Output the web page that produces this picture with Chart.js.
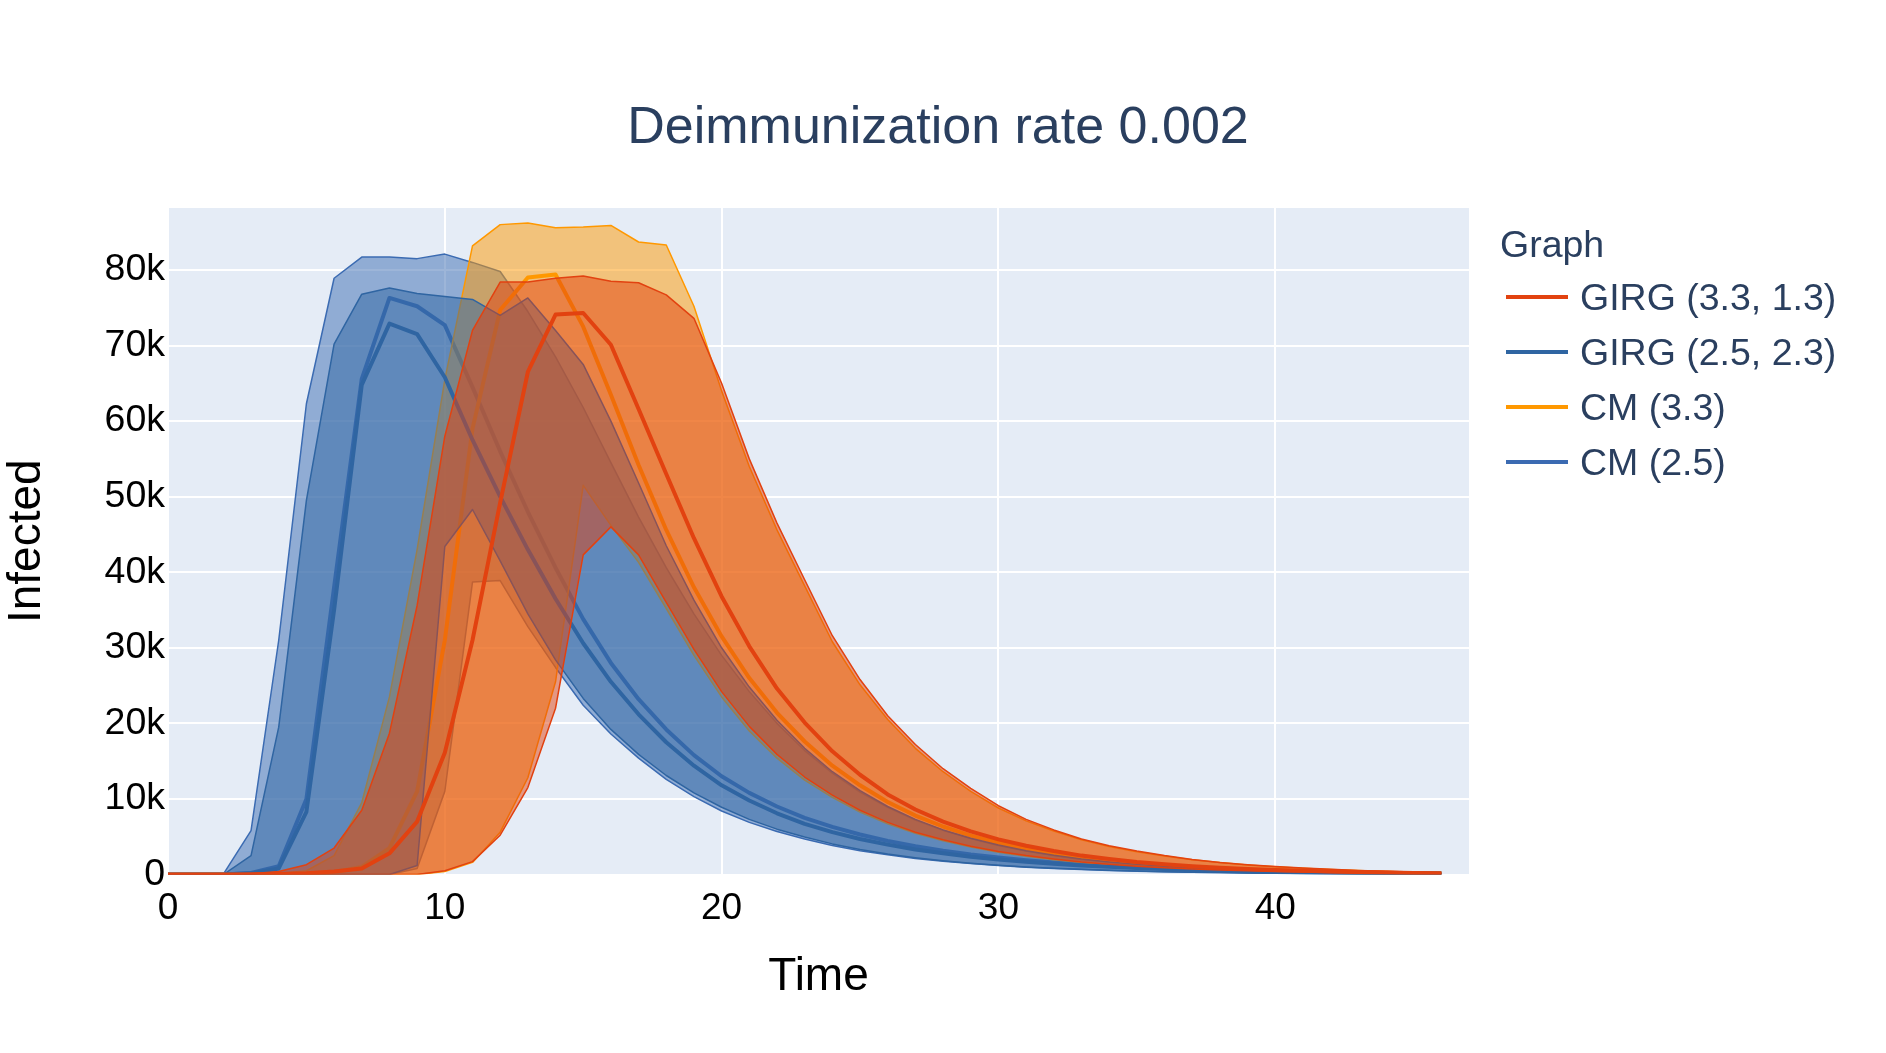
<!DOCTYPE html>
<html>
<head>
<meta charset="utf-8">
<title>Deimmunization rate 0.002</title>
<script src="https://cdn.jsdelivr.net/npm/chart.js"></script>
<style>
  html, body { margin: 0; padding: 0; background: #fff; }
  body { position: relative; width: 1886px; height: 1053px; overflow: hidden;
         font-family: "Liberation Sans", Arial, sans-serif; }
  #infected { position: absolute; left: 0; top: 0; }
  .chart-title { position: absolute; left: 0; top: 99px; width: 1876px; text-align: center;
                 font-size: 52px; line-height: 52px; color: #2a3f5f; white-space: nowrap; }
  .legend-title { position: absolute; left: 1500px; top: 226px; font-size: 37.5px; line-height: 37.5px;
                  color: #2a3f5f; white-space: nowrap; }
  .legend-swatch { position: absolute; left: 1506px; width: 62px; height: 4px; }
  .legend-text { position: absolute; left: 1580px; font-size: 37.5px; line-height: 37.5px;
                 color: #2a3f5f; white-space: nowrap; }
</style>
</head>
<body>
<canvas id="infected" width="1886" height="1053"></canvas>
<div class="chart-title">Deimmunization rate 0.002</div>
<div id="legend"></div>
<script>
// time steps
const TIME = [0, 1, 2, 3, 4, 5, 6, 7, 8, 9, 10, 11, 12, 13, 14, 15, 16, 17, 18, 19, 20, 21, 22, 23,
  24, 25, 26, 27, 28, 29, 30, 31, 32, 33, 34, 35, 36, 37, 38, 39, 40, 41, 42, 43, 44, 45, 46];

// infected, in thousands
const GIRG33_MEAN = [0, 0, 0, 0.02, 0.06, 0.15, 0.4, 0.8, 2.8, 7.0, 16.1, 31.0, 49.2, 66.5, 74.1, 74.3,
  70.1, 61.6, 53.0, 44.5, 36.8, 30.2, 24.6, 20.1, 16.3, 13.2, 10.6, 8.6, 7.0, 5.7, 4.65, 3.8, 3.1, 2.5,
  2.05, 1.65, 1.35, 1.1, 0.9, 0.73, 0.6, 0.48, 0.39, 0.32, 0.26, 0.21, 0.17];
const GIRG33_UPPER = [0, 0, 0, 0.1, 0.4, 1.3, 3.5, 8.5, 18.7, 35.6, 58.0, 72.0, 78.4, 78.4, 78.9, 79.2,
  78.5, 78.3, 76.7, 73.6, 65.0, 55.0, 46.5, 39.0, 31.6, 25.8, 21.0, 17.2, 14.0, 11.4, 9.1, 7.3, 5.9, 4.7,
  3.8, 3.1, 2.5, 2.0, 1.6, 1.3, 1.05, 0.85, 0.68, 0.54, 0.42, 0.32, 0.24];
const GIRG33_LOWER = [0, 0, 0, 0, 0, 0, 0, 0, 0, 0, 0.5, 1.7, 5.2, 11.5, 22.0, 42.3, 46.0, 42.3, 36.0,
  29.8, 24.2, 19.6, 15.9, 12.9, 10.5, 8.5, 6.9, 5.6, 4.6, 3.75, 3.05, 2.5, 2.05, 1.65, 1.35, 1.1, 0.9,
  0.73, 0.6, 0.48, 0.39, 0.32, 0.26, 0.21, 0.17, 0.14, 0.11];

const GIRG25_MEAN = [0, 0, 0, 0.15, 0.8, 8.3, 35.0, 64.8, 72.9, 71.5, 65.8, 57.5, 50.0, 43.0, 36.5, 30.6,
  25.5, 21.2, 17.5, 14.4, 11.8, 9.8, 8.1, 6.7, 5.6, 4.7, 3.95, 3.3, 2.8, 2.35, 2.0, 1.68, 1.42, 1.2,
  1.01, 0.85, 0.72, 0.61, 0.51, 0.43, 0.36, 0.3, 0.25, 0.21, 0.18, 0.15, 0.12];
const GIRG25_UPPER = [0, 0, 0, 2.5, 19.5, 49.5, 70.2, 76.8, 77.6, 76.9, 76.5, 76.1, 74.0, 76.3, 72.0, 67.5,
  60.0, 51.8, 43.5, 36.3, 30.0, 24.8, 20.4, 16.7, 13.6, 11.1, 9.0, 7.3, 5.9, 4.8, 3.9, 3.15, 2.55, 2.05,
  1.66, 1.34, 1.08, 0.87, 0.7, 0.57, 0.46, 0.37, 0.3, 0.24, 0.19, 0.15, 0.12];
const GIRG25_LOWER = [0, 0, 0, 0, 0, 0, 0, 0, 0, 1.2, 43.4, 48.3, 41.5, 34.5, 28.4, 23.3, 19.2, 15.9,
  13.1, 10.8, 8.9, 7.3, 6.0, 4.95, 4.05, 3.3, 2.7, 2.22, 1.82, 1.5, 1.23, 1.0, 0.83, 0.68, 0.56, 0.46,
  0.38, 0.31, 0.26, 0.21, 0.17, 0.14, 0.12, 0.1, 0.08, 0.06, 0.05];

const CM33_MEAN = [0, 0, 0, 0.02, 0.05, 0.12, 0.3, 1.0, 3.5, 11.0, 31.0, 59.0, 74.7, 79.0, 79.4, 72.5,
  63.5, 54.2, 45.6, 38.0, 31.5, 26.0, 21.4, 17.6, 14.4, 11.8, 9.6, 7.8, 6.35, 5.15, 4.2, 3.4, 2.75, 2.25,
  1.82, 1.48, 1.2, 0.97, 0.79, 0.64, 0.52, 0.42, 0.34, 0.28, 0.23, 0.18, 0.15];
const CM33_UPPER = [0, 0, 0, 0, 0.1, 0.5, 2.5, 9.5, 23.5, 43.0, 65.5, 83.2, 86.0, 86.2, 85.6, 85.7,
  85.9, 83.7, 83.3, 75.2, 64.0, 54.0, 45.6, 38.2, 30.8, 25.1, 20.5, 16.7, 13.6, 11.0, 8.8, 7.1, 5.75, 4.6,
  3.7, 3.0, 2.45, 1.95, 1.58, 1.27, 1.02, 0.82, 0.66, 0.52, 0.41, 0.31, 0.23];
const CM33_LOWER = [0, 0, 0, 0, 0, 0, 0, 0, 0, 0, 0.4, 1.6, 5.6, 12.8, 25.5, 51.5, 46.2, 41.3, 35.2,
  29.0, 23.5, 19.0, 15.4, 12.5, 10.2, 8.25, 6.7, 5.45, 4.45, 3.65, 2.95, 2.4, 1.95, 1.6, 1.3, 1.06, 0.86,
  0.7, 0.57, 0.46, 0.37, 0.3, 0.24, 0.19, 0.15, 0.12, 0.1];

const CM25_MEAN = [0, 0, 0.01, 0.2, 1.1, 10.0, 38.0, 65.6, 76.3, 75.2, 72.7, 64.5, 56.0, 48.0, 40.6, 33.8,
  28.0, 23.2, 19.2, 15.8, 13.0, 10.8, 9.0, 7.5, 6.3, 5.3, 4.45, 3.75, 3.15, 2.65, 2.25, 1.9, 1.6, 1.35,
  1.14, 0.96, 0.81, 0.68, 0.57, 0.48, 0.4, 0.34, 0.28, 0.24, 0.2, 0.17, 0.14];
const CM25_UPPER = [0, 0, 0.05, 5.8, 31.0, 62.3, 78.9, 81.7, 81.7, 81.5, 82.1, 81.0, 79.8, 74.5, 68.5, 61.8,
  54.5, 47.3, 40.6, 34.5, 29.0, 24.2, 20.0, 16.4, 13.4, 10.9, 8.9, 7.2, 5.85, 4.75, 3.85, 3.1, 2.5, 2.0,
  1.62, 1.3, 1.05, 0.85, 0.68, 0.55, 0.44, 0.35, 0.28, 0.22, 0.18, 0.14, 0.11];
const CM25_LOWER = [0, 0, 0, 0, 0, 0, 0, 0, 0, 0.8, 11.0, 38.7, 38.9, 32.8, 27.4, 22.4, 18.6, 15.4, 12.6,
  10.3, 8.4, 6.9, 5.7, 4.7, 3.85, 3.15, 2.6, 2.13, 1.75, 1.44, 1.18, 0.97, 0.8, 0.66, 0.54, 0.44, 0.36,
  0.3, 0.25, 0.2, 0.17, 0.14, 0.11, 0.09, 0.07, 0.06, 0.05];

// legend order, which is also the stacking order (first one on top)
const SERIES = [
  { name: 'GIRG (3.3, 1.3)', rgb: '226, 66, 16', mean: GIRG33_MEAN, upper: GIRG33_UPPER, lower: GIRG33_LOWER },
  { name: 'GIRG (2.5, 2.3)', rgb: '47, 101, 162', mean: GIRG25_MEAN, upper: GIRG25_UPPER, lower: GIRG25_LOWER },
  { name: 'CM (3.3)', rgb: '255, 152, 0', mean: CM33_MEAN, upper: CM33_UPPER, lower: CM33_LOWER },
  { name: 'CM (2.5)', rgb: '59, 107, 178', mean: CM25_MEAN, upper: CM25_UPPER, lower: CM25_LOWER }
];

const FONT = '"Liberation Sans", Arial, sans-serif';
Chart.defaults.font.family = FONT;

const points = values => values.map((v, i) => ({ x: TIME[i], y: v }));

const datasets = SERIES.flatMap(s => [
  {
    label: s.name,
    data: points(s.mean),
    borderColor: `rgb(${s.rgb})`,
    borderWidth: 4,
    fill: false
  },
  {
    label: s.name + ' upper',
    data: points(s.upper),
    borderColor: `rgb(${s.rgb})`,
    borderWidth: 1.5,
    backgroundColor: `rgba(${s.rgb}, 0.5)`,
    fill: '+1'
  },
  {
    label: s.name + ' lower',
    data: points(s.lower),
    borderColor: `rgb(${s.rgb})`,
    borderWidth: 1.5,
    fill: false
  }
]);

const plotBackground = {
  id: 'plotBackground',
  beforeDraw(chart) {
    const { ctx, chartArea } = chart;
    ctx.save();
    ctx.fillStyle = '#e5ecf6';
    ctx.fillRect(chartArea.left, chartArea.top, chartArea.right - chartArea.left, chartArea.bottom - chartArea.top);
    ctx.restore();
  }
};

const config = {
  type: 'line',
  data: { datasets },
  plugins: [plotBackground],
  options: {
    responsive: false,
    devicePixelRatio: 1,
    animation: false,
    layout: { padding: { left: 0, top: 208, right: 417, bottom: 46.5 } },
    elements: {
      point: { radius: 0 },
      line: { tension: 0, borderJoinStyle: 'round' }
    },
    plugins: {
      legend: { display: false },
      title: { display: false },
      tooltip: { enabled: false }
    },
    scales: {
      x: {
        type: 'linear',
        min: 0,
        max: 47,
        border: { display: false },
        grid: { color: '#ffffff', lineWidth: 2, drawTicks: false },
        ticks: { stepSize: 10, includeBounds: false, padding: 12, color: '#000', font: { size: 37 } },
        title: { display: true, text: 'Time', color: '#000', font: { size: 46 }, padding: { top: 0, bottom: 2 } },
        afterFit(scale) { scale.height = 132; }
      },
      y: {
        type: 'linear',
        min: 0,
        max: 88.2,
        border: { display: false },
        grid: { color: '#ffffff', lineWidth: 2, drawTicks: false },
        ticks: {
          stepSize: 10,
          includeBounds: false,
          padding: 3,
          color: '#000',
          font: { size: 37.5 },
          callback: v => (v === 0 ? '0' : v + 'k')
        },
        title: { display: true, text: 'Infected', color: '#000', font: { size: 46 }, padding: { top: 0, bottom: 0 } },
        afterFit(scale) { scale.width = 168; }
      }
    }
  }
};

new Chart(document.getElementById('infected'), config);

// legend
const legend = document.getElementById('legend');
const legendTitle = document.createElement('div');
legendTitle.className = 'legend-title';
legendTitle.textContent = 'Graph';
legend.appendChild(legendTitle);
SERIES.forEach((s, i) => {
  const swatch = document.createElement('div');
  swatch.className = 'legend-swatch';
  swatch.style.top = (295 + i * 55) + 'px';
  swatch.style.background = `rgb(${s.rgb})`;
  legend.appendChild(swatch);
  const text = document.createElement('div');
  text.className = 'legend-text';
  text.style.top = (278.5 + i * 55) + 'px';
  text.textContent = s.name;
  legend.appendChild(text);
});
</script>
</body>
</html>
